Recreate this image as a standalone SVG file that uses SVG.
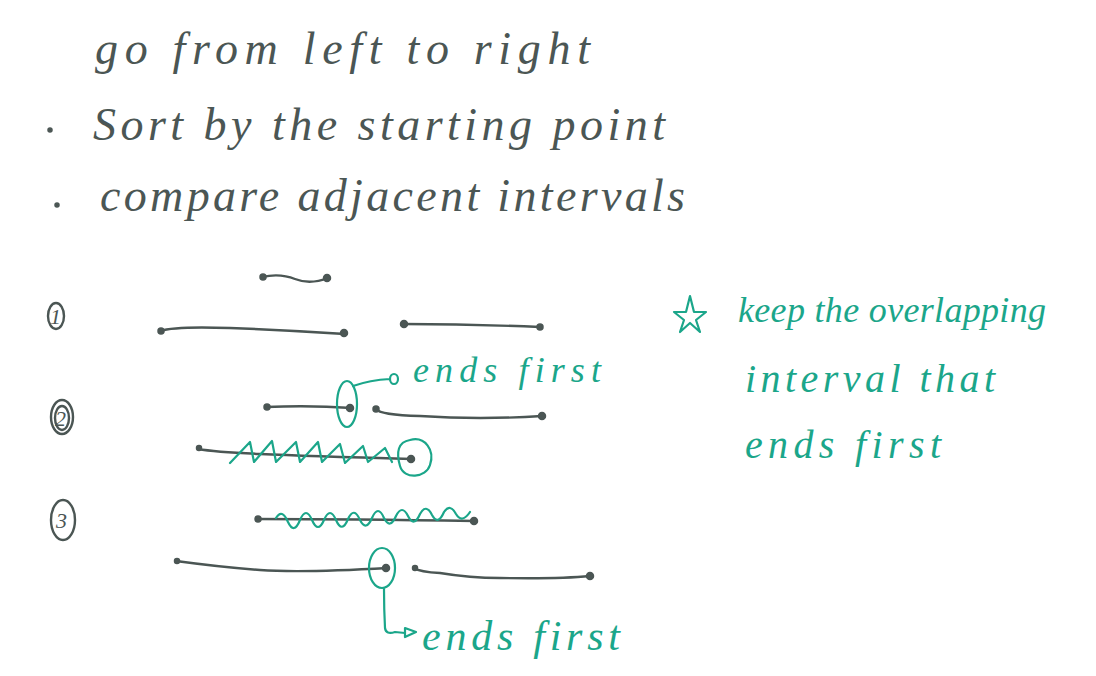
<svg xmlns="http://www.w3.org/2000/svg" width="1096" height="676" viewBox="0 0 1096 676">
<style>
.ink{fill:none;stroke:#4b5654;stroke-width:2.4;stroke-linecap:round;stroke-linejoin:round}
.dot{fill:#4b5654;stroke:#4b5654;stroke-width:1.5}
.g{fill:none;stroke:#1ba68a;stroke-width:2.2;stroke-linecap:round;stroke-linejoin:round}
.t{font-family:"Liberation Serif",serif;font-style:italic;fill:#4b5654}
.tg{font-family:"Liberation Serif",serif;font-style:italic;fill:#1ba68a}
</style>
<rect width="1096" height="676" fill="#ffffff"/>
<g id="notes">
<text class="t" x="95" y="64" font-size="46" textLength="495" lengthAdjust="spacing">go from left to right</text>
<circle class="dot" cx="50" cy="130" r="2"/>
<text class="t" x="93" y="140" font-size="46" textLength="572" lengthAdjust="spacing">Sort by the starting point</text>
<circle class="dot" cx="57" cy="205" r="2"/>
<text class="t" x="100" y="211" font-size="46" textLength="585" lengthAdjust="spacing">compare adjacent intervals</text>
</g>
<g id="case1">
<ellipse class="ink" cx="56" cy="316" rx="8" ry="13"/>
<text class="t" x="50" y="324" font-size="22">1</text>
<path class="ink" d="M262 277 Q280 273 295 279 T328 278"/>
<circle class="dot" cx="263" cy="277" r="3"/><circle class="dot" cx="327" cy="278" r="3.5"/>
<path class="ink" d="M160 331 Q175 326 230 328 T345 334"/>
<circle class="dot" cx="161" cy="331" r="3"/><circle class="dot" cx="344" cy="333" r="3.5"/>
<path class="ink" d="M403 324 Q470 324 540 327"/>
<circle class="dot" cx="404" cy="324" r="3.5"/><circle class="dot" cx="540" cy="327" r="3"/>
</g>
<g id="case2">
<ellipse class="ink" cx="62" cy="417" rx="11" ry="17"/>
<ellipse class="ink" cx="62" cy="418" rx="7" ry="12"/>
<text class="t" x="55" y="426" font-size="22">2</text>
<path class="ink" d="M266 407 Q310 405 352 408"/>
<circle class="dot" cx="267" cy="407" r="3"/><circle class="dot" cx="350" cy="408" r="3.5"/>
<path class="ink" d="M376 409 Q380 415 420 416 Q480 420 542 416"/>
<circle class="dot" cx="376" cy="409" r="3"/><circle class="dot" cx="542" cy="416" r="3.5"/>
<ellipse class="g" cx="347" cy="404" rx="10" ry="23"/>
<path class="g" d="M353 386 Q370 380 390 379 M390 379 a4 5 0 1 0 8 0 a4 5 0 1 0 -8 0"/>
<text class="tg" x="413" y="382" font-size="36" textLength="188" lengthAdjust="spacing">ends first</text>
<path class="ink" d="M198 449 Q215 452 260 454 T412 459"/>
<circle class="dot" cx="199" cy="448" r="2.5"/><circle class="dot" cx="411" cy="459" r="3.5"/>
<path class="g" d="M230 463 L250 442 L254 462 L272 441 L276 462 L296 442 L300 462 L318 442 L322 462 L340 444 L345 463 L363 446 L368 462 L385 448 L392 462"/>
<path class="g" d="M410 440 C425 436 435 450 430 465 C426 478 404 480 400 466 C396 452 398 442 410 440"/>
</g>
<g id="case3">
<ellipse class="ink" cx="63" cy="520" rx="12" ry="20"/>
<text class="t" x="56" y="528" font-size="22">3</text>
<path class="ink" d="M257 519 Q350 519 475 521"/>
<circle class="dot" cx="258" cy="519" r="3"/><circle class="dot" cx="474" cy="521" r="3.5"/>
<path class="g" d="M276 518 Q282 508 288 522 Q294 535 300 520 Q306 506 312 520 Q318 534 324 520 Q330 506 336 520 Q342 534 348 519 Q354 506 360 520 Q366 532 372 518 Q378 504 384 518 Q390 530 396 516 Q402 504 408 516 Q414 528 420 514 Q426 503 432 515 Q438 526 444 512 Q450 503 456 514 Q462 524 470 512"/>
<path class="ink" d="M176 561 Q220 567 260 570 T388 568"/>
<circle class="dot" cx="177" cy="561" r="2.5"/><circle class="dot" cx="386" cy="568" r="3.5"/>
<path class="ink" d="M414 568 Q420 572 440 573 Q470 578 500 578 Q560 579 590 576"/>
<circle class="dot" cx="415" cy="568" r="2.5"/><circle class="dot" cx="590" cy="576" r="3.5"/>
<ellipse class="g" cx="382" cy="568" rx="13" ry="20"/>
<path class="g" d="M384 589 Q384 610 385 628 Q386 635 395 632 L405 633"/>
<path class="g" d="M405 628 L416 632 L405 637 Z"/>
<text class="tg" x="422" y="650" font-size="42" textLength="198" lengthAdjust="spacing">ends first</text>
</g>
<g id="remark">
<path class="g" d="M690 296 L694 312 L706 312 L696 320 L700 332 L690 323 L680 332 L684 320 L674 312 L686 312 Z"/>
<text class="tg" x="738" y="322" font-size="36" textLength="308" lengthAdjust="spacing">keep the overlapping</text>
<text class="tg" x="745" y="392" font-size="40" textLength="250" lengthAdjust="spacing">interval that</text>
<text class="tg" x="745" y="458" font-size="40" textLength="196" lengthAdjust="spacing">ends first</text>
</g>
</svg>
